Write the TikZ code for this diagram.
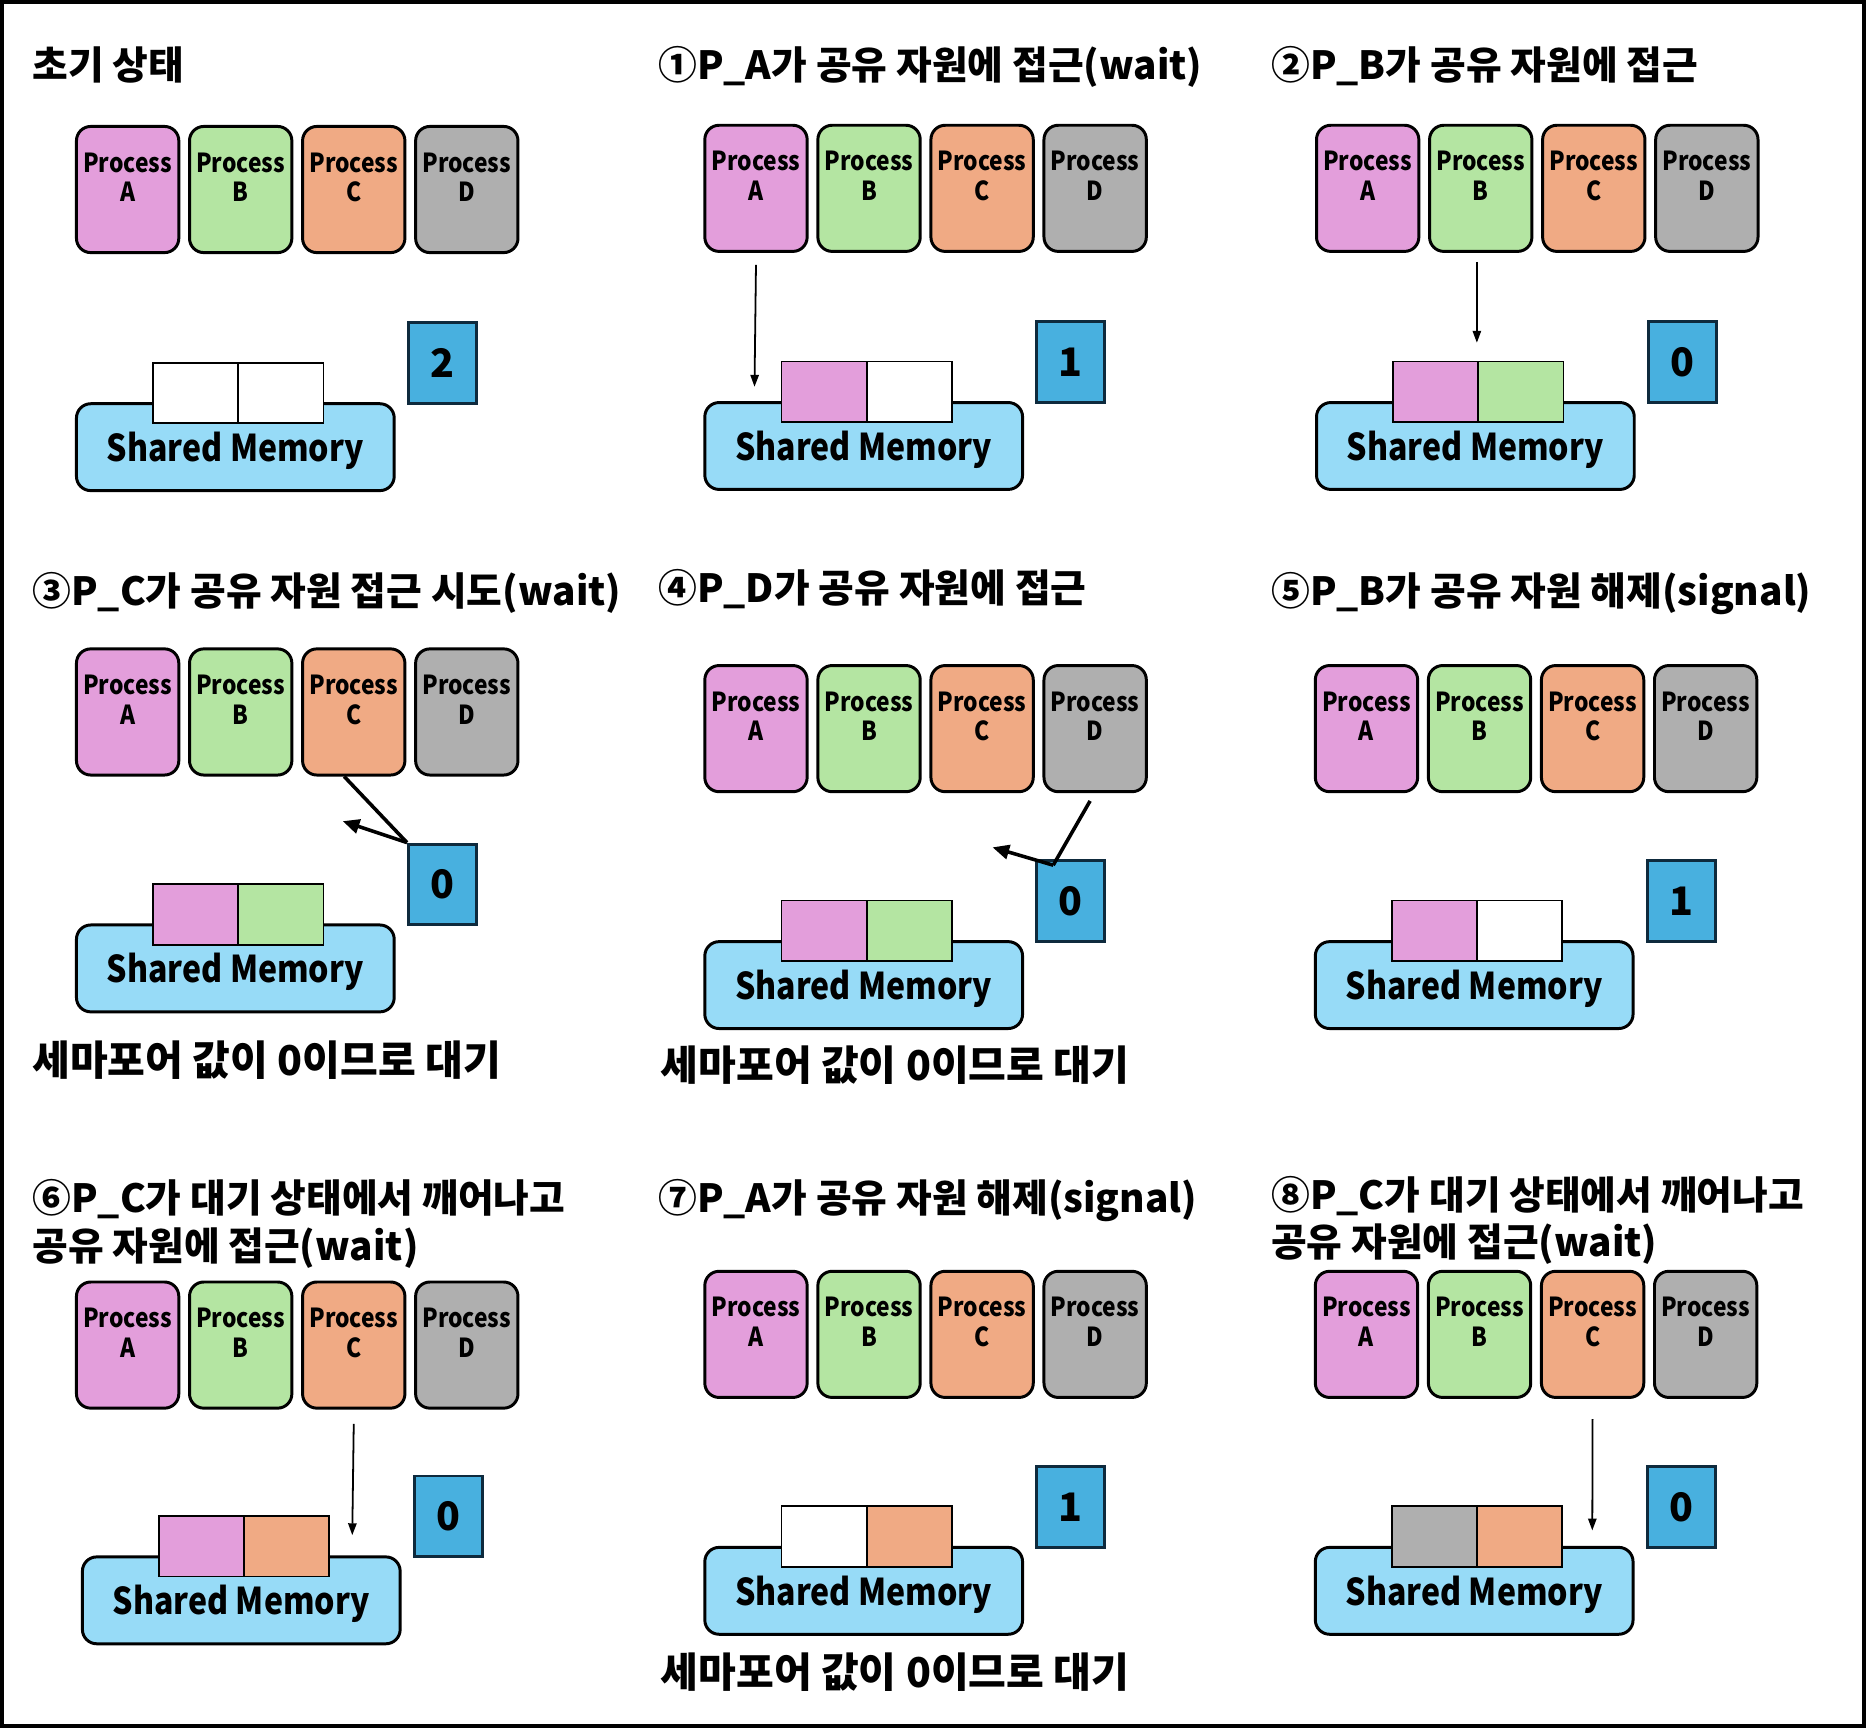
\documentclass[tikz,border=0pt]{standalone}
\usepackage{fontspec}
\setmainfont{Noto Sans CJK KR}
\newfontfamily\narrowfont[FakeStretch=0.87]{Noto Sans CJK KR}
\usetikzlibrary{arrows.meta}
\definecolor{pa}{HTML}{E39EDB}
\definecolor{pb}{HTML}{B4E5A2}
\definecolor{pc}{HTML}{F0AA84}
\definecolor{pd}{HTML}{AFAFAF}
\definecolor{memc}{HTML}{97DBF7}
\definecolor{semc}{HTML}{48B0DF}
\definecolor{semb}{HTML}{0E2A3D}
\tikzset{
 proc/.style={draw=black, line width=2.5pt, rounded corners=12pt, minimum width=86pt, minimum height=106pt, anchor=north west, inner sep=0pt},
 ptext/.style={anchor=north, align=center, font=\narrowfont\bfseries\fontsize{22}{25}\selectfont, inner sep=0pt},
 memory/.style={draw=black, line width=2.5pt, fill=memc, rounded corners=12pt, minimum width=267pt, minimum height=73pt, anchor=north west, inner sep=0pt},
 memtext/.style={font=\narrowfont\bfseries\fontsize{31}{36}\selectfont, inner sep=0pt},
 slot/.style={draw=black, line width=1.5pt, minimum width=71.5pt, minimum height=51pt, anchor=north west, inner sep=0pt},
 sema/.style={draw=semb, line width=2.5pt, fill=semc, minimum width=57pt, minimum height=68pt, anchor=north west, inner sep=0pt, font=\bfseries\fontsize{33}{36}\selectfont},
 ttl/.style={anchor=base west, font=\bfseries\fontsize{32.6}{40}\selectfont, inner sep=0pt},
 note/.style={anchor=base west, font=\bfseries\fontsize{34.5}{40}\selectfont, inner sep=0pt},
 thinarrow/.style={line width=1.5pt, -{Triangle[length=10pt,width=7pt]}},
 thickarrow/.style={line width=3pt, -{Triangle[length=14pt,width=12pt]}},
}
% id, x, y of the row of processes
\newcommand\procrow[3]{%
 \node[proc, fill=pa] (#1a) at (#2+1, #3+1) {};
 \node[proc, fill=pb] (#1b) at (#2+96, #3+1) {};
 \node[proc, fill=pc] (#1c) at (#2+191, #3+1) {};
 \node[proc, fill=pd] (#1d) at (#2+286, #3+1) {};
 \node[ptext] (#1at) at ([yshift=-23pt]#1a.north) {Process\\A};
 \node[ptext] (#1bt) at ([yshift=-23pt]#1b.north) {Process\\B};
 \node[ptext] (#1ct) at ([yshift=-23pt]#1c.north) {Process\\C};
 \node[ptext] (#1dt) at ([yshift=-23pt]#1d.north) {Process\\D};
}
% id, mem x, mem y, slot1 colour, slot2 colour, semaphore
\newcommand\memrow[6]{%
 \node[memory] (#1m) at (#2+1, #3+1) {};
 \node[memtext] (#1mt) at ([yshift=-3pt]#1m.center) {Shared Memory};
 \node[slot, fill=#4] (#1s1) at (#2+66, #3-33) {};
 \node[slot, fill=#5] (#1s2) at (#2+137.5, #3-33) {};
 \node[sema] (#1x) at (#2+280, #3-67) {#6};
}
\begin{document}
\begin{tikzpicture}[x=1pt, y=-1pt]
\useasboundingbox (0,0) rectangle (1568,1452);
\fill[white] (0,0) rectangle (1568,1452);
\draw[line width=3pt] (1.5,1.5) rectangle (1566.5,1450.5);

% panel 0
\node[ttl] (t0) at (27,67) {초기 상태};
\procrow{p0}{62}{104}
\memrow{p0}{62}{337}{white}{white}{2}

% panel 1
\node[ttl] (t1) at (553,67) {①P\_A가 공유 자원에 접근(wait)};
\procrow{p1}{590}{103}
\memrow{p1}{590}{336}{pa}{white}{1}
\coordinate (e1) at (634,325);
\draw[thinarrow] ([yshift=-10pt]p1a.south) -- (e1);

% panel 2
\node[ttl] (t2) at (1068,67) {②P\_B가 공유 자원에 접근};
\procrow{p2}{1104}{103}
\memrow{p2}{1104}{336}{pa}{pb}{0}
\coordinate (e2) at (1241,288);
\draw[thinarrow] (1241,220) -- (e2);

% panel 3
\node[ttl] (t3) at (27,509) {③P\_C가 공유 자원 접근 시도(wait)};
\procrow{p3}{62}{543}
\memrow{p3}{62}{775}{pa}{pb}{0}
\coordinate (e3) at (288,690);
\draw[line width=3pt] ([xshift=-8pt]p3c.south) -- (p3x.north west);
\draw[thickarrow] (p3x.north west) -- (e3);
\node[note] (n3) at (27,904) {세마포어 값이 0이므로 대기};

% panel 4
\node[ttl] (t4) at (553,506) {④P\_D가 공유 자원에 접근};
\procrow{p4}{590}{557}
\memrow{p4}{590}{789}{pa}{pb}{0}
\coordinate (s4) at (916,673);
\coordinate (m4) at (885,727);
\coordinate (e4) at (834,712);
\draw[line width=3pt] (s4) -- (m4);
\draw[thickarrow] (m4) -- (e4);
\node[note] (n4) at (555,908) {세마포어 값이 0이므로 대기};

% panel 5
\node[ttl] (t5) at (1068,509) {⑤P\_B가 공유 자원 해제(signal)};
\procrow{p5}{1103}{557}
\memrow{p5}{1103}{789}{pa}{white}{1}

% panel 6
\node[ttl] (t6a) at (27,1019) {⑥P\_C가 대기 상태에서 깨어나고};
\node[ttl] (t6b) at (27,1059) {공유 자원에 접근(wait)};
\procrow{p6}{62}{1075}
\memrow{p6}{67}{1306}{pa}{pc}{0}
\coordinate (e6) at (296,1290);
\draw[thinarrow] ([yshift=-12pt]p6c.south) -- (e6);

% panel 7
\node[ttl] (t7) at (553,1019) {⑦P\_A가 공유 자원 해제(signal)};
\procrow{p7}{590}{1066}
\memrow{p7}{590}{1298}{white}{pc}{1}
\node[note] (n7) at (555,1418) {세마포어 값이 0이므로 대기};

% panel 8
\node[ttl] (t8a) at (1068,1016) {⑧P\_C가 대기 상태에서 깨어나고};
\node[ttl] (t8b) at (1068,1056) {공유 자원에 접근(wait)};
\procrow{p8}{1103}{1066}
\memrow{p8}{1103}{1298}{pd}{pc}{0}
\coordinate (e8) at (1338,1286);
\draw[thinarrow] ([yshift=-17pt]p8c.south) -- (e8);
\end{tikzpicture}
\end{document}
